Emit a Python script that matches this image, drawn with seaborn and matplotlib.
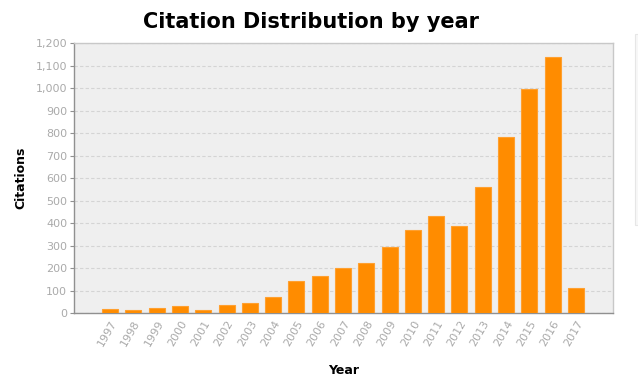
import seaborn as sns
import pandas as pd
import matplotlib.pyplot as plt
from matplotlib.ticker import MultipleLocator, FuncFormatter
from matplotlib.patches import Rectangle

years = [str(y) for y in range(1997, 2018)]
citations = [20, 13, 25, 31, 13, 36, 47, 70, 142, 163, 201, 221, 292, 369,
             431, 387, 559, 781, 995, 1140, 110]

df = pd.DataFrame({"Year": years, "Citations": citations})

sns.set_style("white")
plt.rcParams["font.family"] = ["DejaVu Sans"]

fig = plt.figure(figsize=(6.38, 3.81), dpi=100)
ax = fig.add_axes([0.116, 0.178, 0.845, 0.709])

sns.barplot(data=df, x="Year", y="Citations", color="#ff8c00",
            saturation=1, width=0.69, ax=ax, zorder=3,
            edgecolor="#ffa030", linewidth=0.8)

ax.set_facecolor("#efefef")
ax.set_ylim(0, 1200)
ax.set_xlim(-1.55, 21.6)
ax.yaxis.set_major_locator(MultipleLocator(100))
ax.yaxis.set_major_formatter(FuncFormatter(lambda v, p: f"{int(v):,}"))
ax.grid(axis="y", color="#d4d4d4", linestyle=(0, (3, 2)), linewidth=0.8, zorder=0)
ax.set_axisbelow(True)

for side in ["top", "right"]:
    ax.spines[side].set_color("#c8c8c8")
for side in ["left", "bottom"]:
    ax.spines[side].set_color("#909090")
for s in ax.spines.values():
    s.set_linewidth(1)

ax.tick_params(axis="y", colors="#909090", labelcolor="#aaaaaa", labelsize=8,
               length=3, width=0.8, pad=2, left=True)
ax.tick_params(axis="x", labelcolor="#aaaaaa", labelsize=8, length=0, pad=4)
plt.setp(ax.get_xticklabels(), rotation=60, ha="right", rotation_mode="anchor")

ax.set_xlabel("Year", fontsize=9, fontweight="bold", color="black", labelpad=11)
ax.set_ylabel("Citations", fontsize=9, fontweight="bold", color="black", labelpad=6)
fig.text(0.487, 0.941, "Citation Distribution by year", fontsize=15,
         fontweight="bold", color="black", ha="center", va="center")

# faint panel edge at the right border
fig.patches.append(Rectangle((0.995, 0.41), 0.01, 0.5, transform=fig.transFigure,
                             facecolor="#f7f7f7", edgecolor="#e6e6e6", linewidth=0.8))

plt.savefig("out.png", dpi=100)
